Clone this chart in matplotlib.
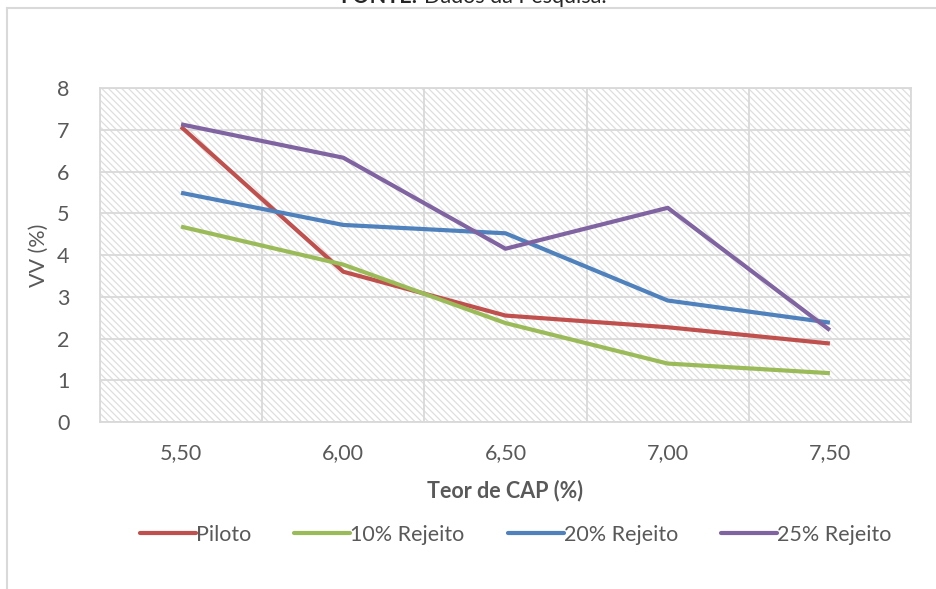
import matplotlib.pyplot as plt
from matplotlib.lines import Line2D
import numpy as np

# Teor de CAP (%) e volume de vazios VV (%)
categorias = ["5,50", "6,00", "6,50", "7,00", "7,50"]
piloto = [7.07, 3.60, 2.55, 2.27, 1.88]
rejeito_10 = [4.68, 3.77, 2.37, 1.40, 1.17]
rejeito_20 = [5.49, 4.72, 4.52, 2.91, 2.38]
rejeito_25 = [7.13, 6.33, 4.15, 5.13, 2.20]

series = [
    ("Piloto", piloto, "#C0504D"),
    ("10% Rejeito", rejeito_10, "#9BBB59"),
    ("20% Rejeito", rejeito_20, "#4F81BD"),
    ("25% Rejeito", rejeito_25, "#8064A2"),
]

plt.rcParams["font.family"] = ["Lato", "DejaVu Sans"]
plt.rcParams["hatch.linewidth"] = 0.9
texto = "#595959"
grade = "#d9d9d9"
fs = 15.5

fig = plt.figure(figsize=(9.36, 5.89), dpi=100)
ax = fig.add_axes([0.1068, 0.2835, 0.8665, 0.5671])

x = np.arange(len(categorias))

# fundo hachurado da área de plotagem
ax.add_patch(plt.Rectangle((0, 0), 1, 1, transform=ax.transAxes, facecolor="white",
                           hatch="\\\\\\\\\\", edgecolor="#dedede", linewidth=0, zorder=0))

for nome, valores, cor in series:
    ax.plot(x, valores, color=cor, lw=3.0, label=nome, solid_capstyle="butt", zorder=3)

ax.set_xlim(-0.5, len(categorias) - 0.5)
ax.set_ylim(0, 8)
ax.set_xticks(x)
ax.set_xticklabels(categorias)
ax.set_xticks(np.arange(-0.5, len(categorias), 0.5), minor=True)
ax.set_yticks(range(0, 9))
ax.tick_params(which="both", length=0, colors=texto, labelsize=fs)
ax.tick_params(axis="x", pad=15)
ax.tick_params(axis="y", pad=22)
ax.grid(True, which="minor", axis="x", color=grade, lw=1.3, zorder=1)
ax.grid(True, which="major", axis="y", color=grade, lw=1.3, zorder=1)
for s in ax.spines.values():
    s.set_color(grade)
    s.set_linewidth(1.3)

ax.set_xlabel("Teor de CAP (%)", fontsize=fs, fontweight="bold", color=texto, labelpad=12)
ax.set_ylabel("VV (%)", fontsize=fs, color=texto, labelpad=6)

leg = fig.legend(loc="center", bbox_to_anchor=(0.551, 0.092), ncol=4, frameon=False,
                 fontsize=fs, handlelength=2.6, handletextpad=0.0, columnspacing=2.0,
                 labelcolor=texto)
for h in leg.get_lines():
    h.set_solid_capstyle("round")

# moldura do gráfico
fig.add_artist(Line2D([7 / 936, 1], [1 - 8 / 589, 1 - 8 / 589], color=grade, lw=1.5))
fig.add_artist(Line2D([7 / 936, 7 / 936], [0, 1 - 8 / 589], color=grade, lw=1.5))

# fonte (cortada no topo)
fig.text(417 / 936, 1 - 3 / 589, "FONTE:", ha="right", va="baseline", fontsize=fs,
         fontweight="bold", color="#262626")
fig.text(424 / 936, 1 - 3 / 589, "Dados da Pesquisa.", ha="left", va="baseline",
         fontsize=fs, color="#262626")

fig.savefig("out.png", dpi=100, facecolor="white")
